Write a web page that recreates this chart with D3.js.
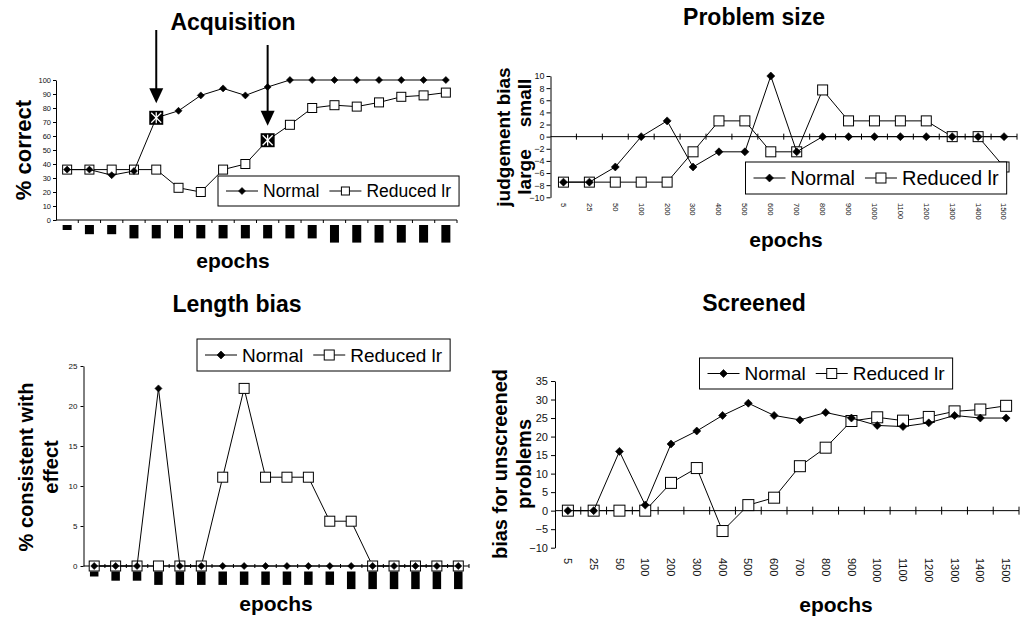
<!DOCTYPE html>
<html><head><meta charset="utf-8">
<script src="https://cdn.jsdelivr.net/npm/d3@7"></script>
<style>
body{margin:0;background:#fff}
svg{display:block}
text{font-family:"Liberation Sans",Arial,sans-serif}
</style>
</head><body>
<svg id="c" width="1022" height="624"></svg>
<script>
// ---------- data ----------
const epochs = ["5","25","50","100","200","300","400","500","600","700","800","900","1000","1100","1200","1300","1400","1500"];
const seriesNames = ["Normal", "Reduced lr"];

const acqNormal  = [36,36,32,35,73,78,89,94,89,95,100,100,100,100,100,100,100,100];
const acqReduced = [36,36,36,36,36,23,20,36,40,57,68,80,82,81,84,88,89,91];
const acqHighlightNormal = 4;   // index marked with arrow (Normal)
const acqHighlightReduced = 9;  // index marked with arrow (Reduced lr)
const acqTicks = [0,10,20,30,40,50,60,70,80,90,100];

const sizeNormal  = [-7.5,-7.5,-5,0,2.6,-5,-2.5,-2.5,10,-2.5,0,0,0,0,0,0,0,0];
const sizeReduced = [-7.5,-7.5,-7.5,-7.5,-7.5,-2.5,2.6,2.6,-2.5,-2.5,7.7,2.6,2.6,2.6,2.6,0,0,-5];
const sizeTicks = [-10,-8,-6,-4,-2,0,2,4,6,8,10];

const lenNormal  = [0,0,0,22.2,0,0,0,0,0,0,0,0,0,0,0,0,0,0];
const lenReduced = [0,0,0,0,0,0,11.1,22.2,11.1,11.1,11.1,5.6,5.6,0,0,0,0,0];
const lenTicks = [0,5,10,15,20,25];

const scrNormal  = [0,0,16,1.5,18,21.5,25.7,29,25.7,24.5,26.5,25,23,22.7,23.7,25.7,25,25];
const scrReduced = [0,0,0,0,7.5,11.5,-5.5,1.5,3.5,12,17,24.2,25.2,24.3,25.3,26.8,27.3,28.3];
const scrTicks = [-10,-5,0,5,10,15,20,25,30,35];

// ---------- drawing ----------
const svg = d3.select("#c");
const FONT = '"Liberation Sans",Arial,sans-serif';

function diamond(g, cx, cy, r){
  g.append("path").attr("d",`M${cx},${cy-r}L${cx+r},${cy}L${cx},${cy+r}L${cx-r},${cy}Z`)
   .attr("fill","#000").attr("stroke","#000").attr("stroke-width",0.6);
}
function square(g, cx, cy, s){
  g.append("rect").attr("x",cx-s/2).attr("y",cy-s/2).attr("width",s).attr("height",s)
   .attr("fill","#fff").attr("stroke","#000").attr("stroke-width",1);
}

function panel(o){
  const g = svg.append("g");
  const x = d3.scaleBand().domain(epochs).range(o.xr);
  const y = d3.scaleLinear().domain(o.yd).range(o.yr);
  const cx = e => x(e) + x.bandwidth()/2;

  // y axis
  const yg = g.append("g").attr("transform",`translate(${o.xr[0]},0)`)
    .call(d3.axisLeft(y).tickValues(o.yt).tickSize(o.ytl).tickSizeOuter(0).tickPadding(o.ytp));
  yg.attr("font-family",FONT);
  yg.select(".domain").attr("stroke","#000");
  yg.selectAll(".tick line").attr("stroke","#000");
  yg.selectAll("text").attr("font-size",o.yfs).attr("fill","#111");

  // x axis line at y(0)
  const y0 = y(0);
  g.append("line").attr("x1",o.xr[0]).attr("x2",o.xr[1]).attr("y1",y0).attr("y2",y0)
    .attr("stroke","#000").attr("stroke-width",1);
  const bounds = epochs.map(e => x(e)).concat([o.xr[1]]);
  g.selectAll(null).data(bounds.slice(1)).enter().append("line")
    .attr("x1",d=>d).attr("x2",d=>d)
    .attr("y1",y0 - o.xtUp).attr("y2",y0 + o.xtDown)
    .attr("stroke","#000").attr("stroke-width",1);

  // x labels
  if (o.blobs){
    g.selectAll(null).data(epochs).enter().append("rect")
      .attr("x",e=>cx(e)-o.blobs.w/2).attr("y",o.blobs.top)
      .attr("width",o.blobs.w).attr("height",e=>4.2*e.length+0.8)
      .attr("fill","#000");
  } else {
    g.selectAll(null).data(epochs).enter().append("text")
      .attr("transform",e=>`translate(${cx(e)},${o.labY}) rotate(90)`)
      .attr("dy","0.35em").attr("text-anchor","start")
      .attr("font-size",o.xfs).attr("fill","#111").text(e=>e);
  }

  // series
  const line = d3.line().x((d,i)=>cx(epochs[i])).y(d=>y(d));
  g.append("path").attr("d",line(o.red)).attr("fill","none").attr("stroke","#000").attr("stroke-width",1);
  o.red.forEach((v,i)=>square(g,cx(epochs[i]),y(v),o.sq));
  g.append("path").attr("d",line(o.norm)).attr("fill","none").attr("stroke","#000").attr("stroke-width",1);
  o.norm.forEach((v,i)=>diamond(g,cx(epochs[i]),y(v),o.dm));

  // title, axis titles
  g.append("text").attr("x",o.title.x).attr("y",o.title.y).attr("text-anchor","middle")
    .attr("font-size",23).attr("font-weight","bold").text(o.title.t);
  g.append("text").attr("x",o.xlab.x).attr("y",o.xlab.y).attr("text-anchor","middle")
    .attr("font-size",21).attr("font-weight","bold").text("epochs");
  o.ylab.forEach(l=>{
    g.append("text").attr("transform",`translate(${l.x},${l.y}) rotate(-90)`)
      .attr("text-anchor","middle").attr("font-size",l.fs).attr("font-weight","bold").text(l.t);
  });

  // legend
  const L = o.leg;
  const lg = g.append("g");
  const box = lg.append("rect").attr("x",L.x).attr("y",L.y).attr("height",L.h)
    .attr("fill","#fff").attr("stroke","#000").attr("stroke-width",1);
  const my = L.y + L.h/2;
  let cur = L.x + 8;
  seriesNames.forEach((name,k)=>{
    lg.append("line").attr("x1",cur).attr("x2",cur+32).attr("y1",my).attr("y2",my)
      .attr("stroke","#000").attr("stroke-width",1);
    if (k===0) diamond(lg,cur+16,my,L.dm); else square(lg,cur+16,my,L.sq);
    cur += 37;
    const t = lg.append("text").attr("x",cur).attr("y",my).attr("dy","0.36em")
      .attr("font-size",L.fs).text(name);
    cur += t.node().getComputedTextLength();
    if (k===0) cur += 10;
  });
  box.attr("width",cur + 8 - L.x);

  return {g,x,y,cx};
}

// Panel 1: Acquisition
const p1 = panel({
  xr:[56,457], yd:[0,100], yr:[220,80], yt:acqTicks, yfs:7.5, ytl:3, ytp:2,
  xtUp:0, xtDown:3, blobs:{top:225,w:9},
  norm:acqNormal, red:acqReduced, dm:3.5, sq:9,
  title:{t:"Acquisition",x:233,y:30}, xlab:{x:233,y:268},
  ylab:[{t:"% correct",x:31,y:150,fs:22}],
  leg:{x:218,y:176,h:30,fs:17.5,dm:3.5,sq:8}
});
// highlighted points + arrows
[[acqNormal,acqHighlightNormal,30],[acqReduced,acqHighlightReduced,45]].forEach(([arr,idx,top])=>{
  const px = p1.cx(epochs[idx]), py = p1.y(arr[idx]);
  const s = 14;
  p1.g.append("rect").attr("x",px-s/2).attr("y",py-s/2).attr("width",s).attr("height",s).attr("fill","#000");
  const r = 5;
  [[0,-r-0.5,0,r+0.5],[-r,-r,r,r],[-r,r,r,-r]].forEach(([a,b,c,d])=>{
    p1.g.append("line").attr("x1",px+a).attr("y1",py+b).attr("x2",px+c).attr("y2",py+d)
      .attr("stroke","#fff").attr("stroke-width",1.3);
  });
  const tip = py - 14.5;
  p1.g.append("line").attr("x1",px).attr("x2",px).attr("y1",top).attr("y2",tip-12)
    .attr("stroke","#000").attr("stroke-width",2);
  p1.g.append("path").attr("d",`M${px-7},${tip-15}L${px+7},${tip-15}L${px},${tip}Z`).attr("fill","#000");
});

// Panel 2: Problem size
panel({
  xr:[550.5,1017], yd:[-10,10], yr:[197.3,76], yt:sizeTicks, yfs:9, ytl:4, ytp:2,
  xtUp:3, xtDown:3, labY:203, xfs:7.5,
  norm:sizeNormal, red:sizeReduced, dm:4, sq:10,
  title:{t:"Problem size",x:754,y:25}, xlab:{x:786,y:247},
  ylab:[{t:"judgement bias",x:510,y:137,fs:19},{t:"large",x:531,y:172,fs:19},{t:"small",x:531,y:103,fs:19}],
  leg:{x:745.5,y:162,h:32,fs:20,dm:4,sq:10}
});

// Panel 3: Length bias
panel({
  xr:[83.5,469], yd:[0,25], yr:[566,366], yt:lenTicks, yfs:8, ytl:3, ytp:3,
  xtUp:2, xtDown:2, blobs:{top:571.5,w:8.5},
  norm:lenNormal, red:lenReduced, dm:3.5, sq:10,
  title:{t:"Length bias",x:237,y:312}, xlab:{x:276,y:611},
  ylab:[{t:"% consistent with",x:33,y:467,fs:20},{t:"effect",x:58,y:467,fs:20}],
  leg:{x:197,y:339,h:32,fs:19,dm:4,sq:10}
});

// Panel 4: Screened
panel({
  xr:[555,1019], yd:[-10,35], yr:[547.7,381], yt:scrTicks, yfs:11, ytl:4, ytp:3,
  xtUp:4, xtDown:4, labY:558, xfs:11,
  norm:scrNormal, red:scrReduced, dm:4, sq:11,
  title:{t:"Screened",x:754,y:311}, xlab:{x:836,y:612},
  ylab:[{t:"bias for unscreened",x:507,y:464,fs:20},{t:"problems",x:531,y:464,fs:20}],
  leg:{x:699.5,y:358,h:31,fs:19,dm:4,sq:10}
});
</script>
</body></html>
